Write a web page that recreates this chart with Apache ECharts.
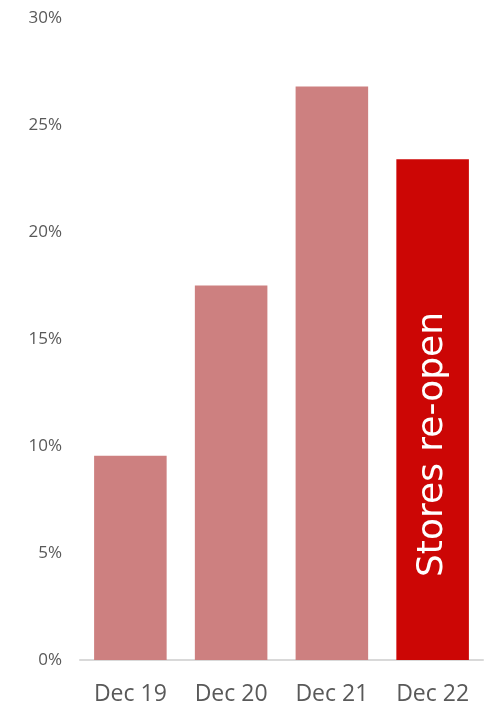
<!DOCTYPE html>
<html>
<head>
<meta charset="utf-8">
<style>
  html, body { margin: 0; padding: 0; background: #fff; }
  #chart { width: 490px; height: 705px; }
</style>
<script src="https://cdn.jsdelivr.net/npm/echarts@6/dist/echarts.min.js"></script>
</head>
<body>
<div id="chart"></div>
<script>
// Share of sales by December
const categories = ["Dec 19", "Dec 20", "Dec 21", "Dec 22"];
const values = [9.55, 17.5, 26.8, 23.4];
const highlightIndex = 3;
const highlightLabel = "Stores re-open";

const PINK = "#cd8080";
const RED = "#cc0605";
const TEXT = "#595959";

const chart = echarts.init(document.getElementById("chart"), null, { renderer: "canvas" });

chart.setOption({
  animation: false,
  grid: { left: 80, right: 7, top: 18, bottom: 45, outerBoundsMode: "none" },
  xAxis: {
    type: "category",
    data: categories,
    axisTick: { show: false },
    axisLine: { lineStyle: { color: "#d9d9d9", width: 2 } },
    axisLabel: { color: TEXT, fontSize: 23, fontFamily: "Open Sans", margin: 23 }
  },
  yAxis: {
    type: "value",
    min: 0,
    max: 30,
    interval: 5,
    splitLine: { show: false },
    axisLine: { show: false },
    axisTick: { show: false },
    axisLabel: {
      color: TEXT,
      fontSize: 17,
      fontFamily: "Open Sans",
      margin: 18,
      formatter: (v) => v + "%"
    }
  },
  series: [{
    type: "bar",
    barWidth: "72%",
    data: values.map((v, i) => ({
      value: v,
      itemStyle: { color: i === highlightIndex ? RED : PINK },
      label: i === highlightIndex ? {
        show: true,
        formatter: highlightLabel,
        position: "insideBottom",
        distance: 83,
        rotate: 90,
        align: "left",
        verticalAlign: "middle",
        color: "#fff",
        fontSize: 36,
        fontFamily: "DejaVu Sans"
      } : { show: false }
    }))
  }]
});
</script>
</body>
</html>
